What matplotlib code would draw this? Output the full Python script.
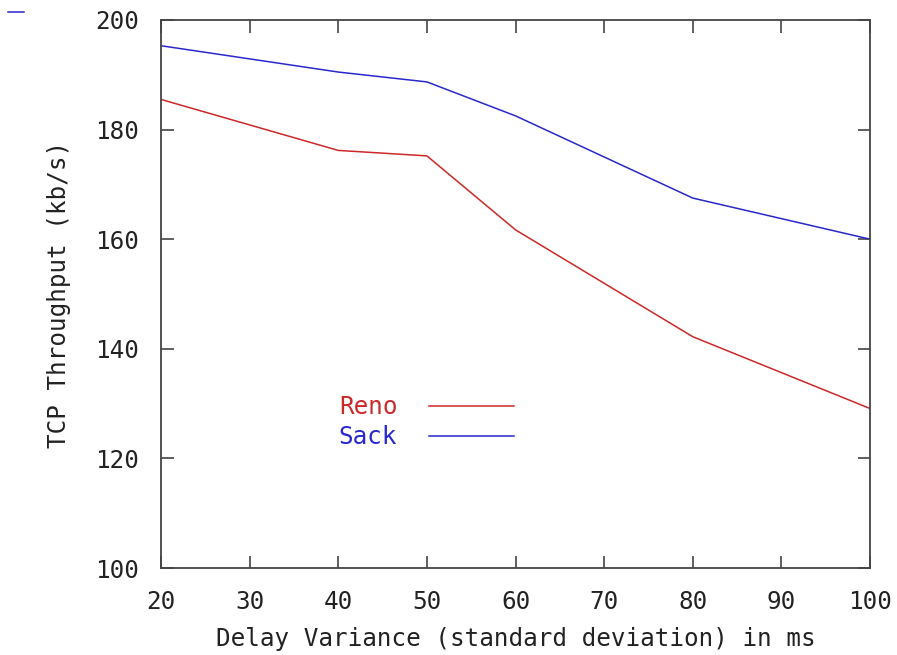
import matplotlib
matplotlib.use("Agg")
import matplotlib.pyplot as plt
from matplotlib.lines import Line2D

# delay variance (std dev, ms) vs TCP throughput
delay = [20, 40, 50, 60, 80, 100]
reno = [185.5, 176.2, 175.2, 161.7, 142.2, 129.1]
sack = [195.3, 190.5, 188.7, 182.5, 167.5, 160.0]
xticks = [20, 30, 40, 50, 60, 70, 80, 90, 100]
yticks = [100, 120, 140, 160, 180, 200]

red = '#cc2828'
blue = '#2828cc'
fs = 17.5
font = 'DejaVu Sans Mono'

fig = plt.figure(figsize=(8.97, 6.55), dpi=100)
ax = fig.add_axes([0.1795, 0.1328, 0.7905, 0.8367])

ax.plot(delay, reno, color=red, lw=1.1, label='Reno')
ax.plot(delay, sack, color=blue, lw=1.1, label='Sack')

ax.set_xlim(20, 100)
ax.set_ylim(100, 200)
ax.set_xticks(xticks)
ax.set_yticks(yticks)
ax.tick_params(direction='in', length=9, width=1.2, color='#444444',
               top=True, right=True, labelsize=fs, pad=16, labelcolor='#222222')
for lab in ax.get_xticklabels() + ax.get_yticklabels():
    lab.set_family(font)
for sp in ax.spines.values():
    sp.set_color('#444444')
    sp.set_linewidth(1.3)

ax.set_xlabel('Delay Variance (standard deviation) in ms', fontsize=fs,
              family=font, color='#222222', labelpad=9)
ax.set_ylabel('TCP Throughput (kb/s)', fontsize=fs, family=font,
              color='#222222', labelpad=17)

leg = ax.legend(loc='center right', bbox_to_anchor=(0.515, 0.266), frameon=False,
                markerfirst=False, handlelength=3.5, handletextpad=1.3,
                labelspacing=0.25, borderpad=0, labelcolor='linecolor',
                prop={'family': font, 'size': fs})

# little stray dash in the top-left corner
fig.add_artist(Line2D([0.009, 0.027], [0.982, 0.982], color=blue, lw=1.1))

fig.savefig('out.png', dpi=100)
